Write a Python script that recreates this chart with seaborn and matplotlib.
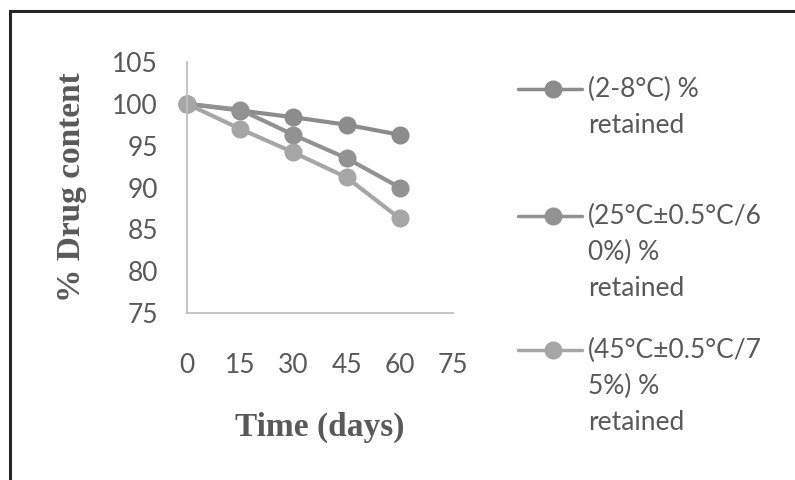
import matplotlib
matplotlib.use("Agg")
import matplotlib.pyplot as plt
from matplotlib.lines import Line2D
from matplotlib.patches import Rectangle
import seaborn as sns
import pandas as pd

# Stability study: % drug content retained over time
days = [0, 15, 30, 45, 60]
cold = [100, 99.2, 98.4, 97.5, 96.3]
room = [100, 99.3, 96.3, 93.5, 90.0]
hot = [100, 97.0, 94.2, 91.2, 86.3]

series_names = [
    "(2-8°C) %\nretained",
    "(25°C±0.5°C/6\n0%) %\nretained",
    "(45°C±0.5°C/7\n5%) %\nretained",
]
series_colors = ["#8c8c8c", "#929292", "#a6a6a6"]

x_ticks = [0, 15, 30, 45, 60, 75]
y_ticks = [75, 80, 85, 90, 95, 100, 105]

frames = []
for name, vals in zip(series_names, [cold, room, hot]):
    frames.append(pd.DataFrame({"Time": days, "Content": vals, "Condition": name}))
df = pd.concat(frames, ignore_index=True)

sns.set_theme(style="white")
plt.rcParams["font.family"] = ["Lato", "DejaVu Sans"]

fig = plt.figure(figsize=(7.95, 4.8), dpi=100)
ax = fig.add_axes([187 / 795, 1 - 313 / 480, (453 - 187) / 795, (313 - 62) / 480])

text_gray = "#595959"
axis_gray = "#bfbfbf"
tick_size = 19

sns.lineplot(
    data=df, x="Time", y="Content", hue="Condition",
    palette=dict(zip(series_names, series_colors)),
    marker="o", markersize=13, linewidth=3, markeredgewidth=0,
    legend=False, ax=ax, clip_on=False,
)

ax.set_xlim(0, 75)
ax.set_ylim(75, 105)
ax.set_xticks(x_ticks)
ax.set_yticks(y_ticks)
ax.tick_params(axis="x", length=0, pad=29, labelsize=tick_size, labelcolor=text_gray)
ax.tick_params(axis="y", length=0, pad=21, labelsize=tick_size, labelcolor=text_gray)
for side in ["top", "right"]:
    ax.spines[side].set_visible(False)
for side in ["left", "bottom"]:
    ax.spines[side].set_color(axis_gray)
    ax.spines[side].set_linewidth(1.3)
ax.grid(False)

ax.set_xlabel("Time (days)", family="Liberation Serif", fontweight="bold",
              fontsize=24, color=text_gray, labelpad=24)
ax.set_ylabel("% Drug content", family="Liberation Serif", fontweight="bold",
              fontsize=24, color=text_gray, labelpad=18)

# Legend drawn entry by entry, each label wrapped over several lines
entry_tops = [89, 216, 350]
line_step = 36
for name, color, yp in zip(series_names, series_colors, entry_tops):
    yf = 1 - yp / 480
    fig.add_artist(Line2D([518 / 795, 582 / 795], [yf, yf], color=color, lw=2.5,
                          transform=fig.transFigure))
    fig.add_artist(Line2D([553 / 795], [yf], color=color, marker="o",
                          markersize=13, markeredgewidth=0, transform=fig.transFigure))
    for i, part in enumerate(name.split("\n")):
        fig.text(588 / 795, 1 - (yp + i * line_step) / 480, part, ha="left",
                 va="center", fontsize=tick_size, color=text_gray,
                 transform=fig.transFigure)

# Outer frame
fig.add_artist(Rectangle((10 / 795, -0.05), 1.2, 1 - 11 / 480 + 0.05,
                         fill=False, edgecolor="#262626", lw=2.2,
                         transform=fig.transFigure))

fig.savefig("out.png", dpi=100, facecolor="white")
